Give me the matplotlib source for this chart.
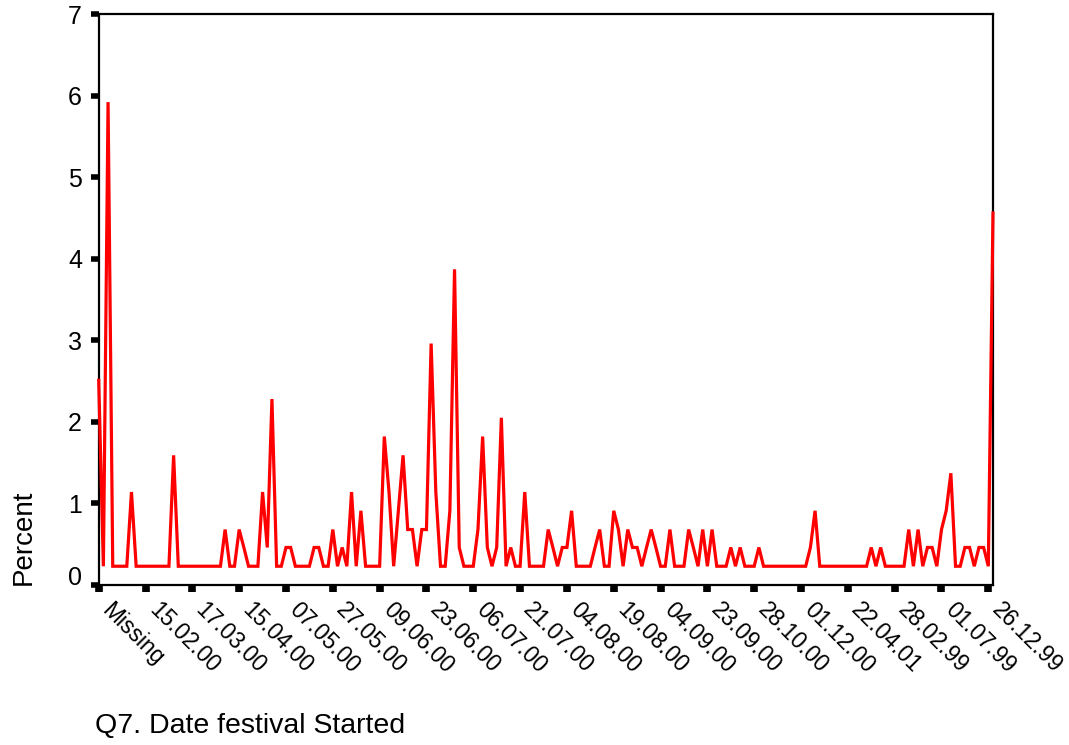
import matplotlib
matplotlib.use("Agg")
import matplotlib.pyplot as plt
from matplotlib.transforms import ScaledTranslation

plt.rcParams['font.family'] = ['Liberation Sans', 'DejaVu Sans']

tick_labels = ["Missing", "15.02.00", "17.03.00", "15.04.00", "07.05.00", "27.05.00",
               "09.06.00", "23.06.00", "06.07.00", "21.07.00", "04.08.00", "19.08.00",
               "04.09.00", "23.09.00", "28.10.00", "01.12.00", "22.04.01", "28.02.99",
               "01.07.99", "26.12.99"]

percent = [
    2.51, .23, 5.92, .23, .23, .23, .23, 1.14, .23, .23,
    .23, .23, .23, .23, .23, .23, 1.59, .23, .23, .23,
    .23, .23, .23, .23, .23, .23, .23, .68, .23, .23,
    .68, .46, .23, .23, .23, 1.14, .46, 2.28, .23, .23,
    .46, .46, .23, .23, .23, .23, .46, .46, .23, .23,
    .68, .23, .46, .23, 1.14, .23, .91, .23, .23, .23,
    .23, 1.82, 1.14, .23, .91, 1.59, .68, .68, .23, .68,
    .68, 2.96, 1.14, .23, .23, .91, 3.87, .46, .23, .23,
    .23, .68, 1.82, .46, .23, .46, 2.05, .23, .46, .23,
    .23, 1.14, .23, .23, .23, .23, .68, .46, .23, .46,
    .46, .91, .23, .23, .23, .23, .46, .68, .23, .23,
    .91, .68, .23, .68, .46, .46, .23, .46, .68, .46,
    .23, .23, .68, .23, .23, .23, .68, .46, .23, .68,
    .23, .68, .23, .23, .23, .46, .23, .46, .23, .23,
    .23, .46, .23, .23, .23, .23, .23, .23, .23, .23,
    .23, .23, .46, .91, .23, .23, .23, .23, .23, .23,
    .23, .23, .23, .23, .23, .46, .23, .46, .23, .23,
    .23, .23, .23, .68, .23, .68, .23, .46, .46, .23,
    .68, .91, 1.37, .23, .23, .46, .46, .23, .46, .46,
    .23, 4.56,
]

label_step = 10
y_ticks = [0, 1, 2, 3, 4, 5, 6, 7]

W, H = 1069, 745
fig = plt.figure(figsize=(W / 100, H / 100), dpi=100)
left, right, top, bottom = 98.7, 993, 14, 585
ax = fig.add_axes([left / W, 1 - bottom / H, (right - left) / W, (bottom - top) / H])

x = list(range(len(percent)))
ax.plot(x, percent, color='#ff0000', lw=2.3, solid_joinstyle='miter', clip_on=False, zorder=3)

ax.set_xlim(0, len(percent) - 1)
ax.set_ylim(0, 7)

ax.tick_params(axis='x', length=5, width=5.5, direction='out', pad=9, color='black')
ax.tick_params(axis='y', length=6, width=4, direction='out', pad=6, color='black')

ax.set_xticks(list(range(0, len(percent), label_step))[:len(tick_labels)])
ax.set_xticklabels(tick_labels, rotation=-45, ha='left', va='top', rotation_mode='anchor', fontsize=16.5)
ax.set_yticks(y_ticks)
ax.set_yticklabels([str(v) for v in y_ticks], fontsize=18)

shift = ScaledTranslation(15 / 100, 6 / 100, fig.dpi_scale_trans)
for lab in ax.get_xticklabels():
    lab.set_transform(lab.get_transform() + shift)
ax.get_yticklabels()[0].set_va('baseline')

for s in ax.spines.values():
    s.set_linewidth(1.6)
    s.set_color('black')

fig.text(24 / W, 1 - 537 / H, 'Percent', rotation=90, va='center', ha='center', fontsize=20)
fig.text(95 / W, 1 - 726 / H, 'Q7. Date festival Started', ha='left', va='center', fontsize=20.5)

fig.savefig('out.png', dpi=100)
